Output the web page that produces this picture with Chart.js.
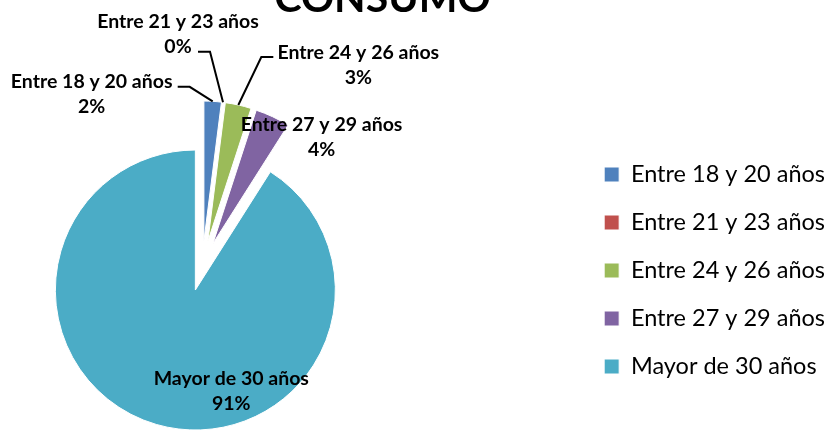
<!DOCTYPE html>
<html>
<head>
<meta charset="utf-8">
<script src="https://cdn.jsdelivr.net/npm/chart.js@4/dist/chart.umd.min.js"></script>
<style>
  html, body { margin: 0; padding: 0; background: #fff; overflow: hidden; }
  body { width: 832px; height: 430px; position: relative; }
  #caja { position: absolute; left: -70px; top: -22px; width: 905px; height: 452px; }
</style>
</head>
<body>
<div id="caja"><canvas id="grafico-consumo"></canvas></div>
<script>
const CATEGORIAS = ['Entre 18 y 20 años', 'Entre 21 y 23 años', 'Entre 24 y 26 años', 'Entre 27 y 29 años', 'Mayor de 30 años'];
const PORCENTAJES = [2, 0, 3, 4, 91];
const COLORES = ['#4F81BD', '#C0504D', '#9BBB59', '#8064A2', '#4BACC6'];

// separacion de las porciones (estilo "explotado" de Excel)
const EXPLODE = 25;
// posicion de cada etiqueta respecto al borde exterior de su porcion
const ETIQUETA_DX = [-121, -45, 120, 49, 75];
const ETIQUETA_DY = [-7, -68, -40, 21, -33];
// inicio de la linea guia respecto al centro de la etiqueta
const GUIA = [[86, -7.5], [20, 17.5], [-85, -8], null, null];

const explotar = {
    id: 'explotar',
    beforeDatasetDraw(chart, args) {
        const ctx = chart.ctx;
        args.meta.data.forEach((arc) => {
            const mid = (arc.startAngle + arc.endAngle) / 2;
            ctx.save();
            ctx.translate(Math.cos(mid) * EXPLODE, Math.sin(mid) * EXPLODE);
            arc.draw(ctx);
            ctx.restore();
        });
        return false;
    }
};

const etiquetas = {
    id: 'etiquetas',
    afterDatasetsDraw(chart) {
        const ctx = chart.ctx;
        const arcs = chart.getDatasetMeta(0).data;
        const total = PORCENTAJES.reduce((a, b) => a + b, 0);
        ctx.save();
        ctx.font = 'bold 19.5px Lato';
        ctx.fillStyle = '#000';
        ctx.strokeStyle = '#000';
        ctx.lineWidth = 2;
        ctx.textAlign = 'center';
        ctx.textBaseline = 'middle';
        arcs.forEach((arc, i) => {
            const mid = (arc.startAngle + arc.endAngle) / 2;
            const r = arc.outerRadius + EXPLODE;
            const px = arc.x + Math.cos(mid) * r;
            const py = arc.y + Math.sin(mid) * r;
            const lx = px + ETIQUETA_DX[i];
            const ly = py + ETIQUETA_DY[i];
            if (GUIA[i]) {
                const sx = lx + GUIA[i][0];
                const sy = ly + GUIA[i][1];
                const ex = sx + Math.sign(px - sx) * 12;
                ctx.beginPath();
                ctx.moveTo(sx, sy);
                ctx.lineTo(ex, sy);
                ctx.lineTo(px, py);
                ctx.stroke();
            }
            const pct = Math.round(PORCENTAJES[i] / total * 100) + '%';
            ctx.fillText(CATEGORIAS[i], lx, ly - 12.5);
            ctx.fillText(pct, lx, ly + 12.5);
        });
        ctx.restore();
    }
};

Chart.defaults.font.family = 'Lato';
Chart.defaults.color = '#000';

const ctx = document.getElementById('grafico-consumo');
const myChart = new Chart(ctx, {
    type: 'pie',
    data: {
        labels: CATEGORIAS,
        datasets: [{
            data: PORCENTAJES,
            backgroundColor: COLORES,
            borderColor: '#fff',
            borderWidth: 1
        }]
    },
    options: {
        responsive: true,
        maintainAspectRatio: false,
        animation: false,
        events: [],
        radius: 140,
        layout: { padding: { top: 0, left: 0, right: 0, bottom: 27.25 } },
        plugins: {
            title: {
                display: true,
                text: 'CONSUMO',
                color: '#000',
                font: { size: 41, weight: 'bold', lineHeight: 1 },
                padding: { top: 0, bottom: 110.25 }
            },
            subtitle: {
                display: true,
                position: 'right',
                text: '',
                weight: 100,
                font: { size: 12, lineHeight: 1.2 },
                padding: { top: 45.3, bottom: 45.3 }
            },
            legend: {
                position: 'right',
                align: 'end',
                maxWidth: 400,
                labels: {
                    boxWidth: 15,
                    boxHeight: 15,
                    padding: 24.5,
                    color: '#000',
                    font: { size: 23.5 }
                }
            },
            tooltip: { enabled: false }
        }
    },
    plugins: [explotar, etiquetas]
});
</script>
</body>
</html>
